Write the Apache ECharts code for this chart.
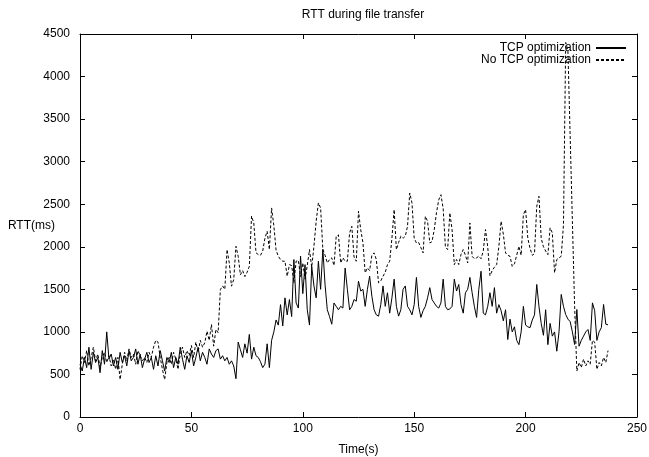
<!DOCTYPE html>
<html>
<head>
<meta charset="utf-8">
<script src="https://cdn.jsdelivr.net/npm/echarts@6/dist/echarts.min.js"></script>
<style>
html,body{margin:0;padding:0;background:#fff;}
#chart{width:649px;height:457px;}
</style>
</head>
<body>
<div id="chart"></div>
<script>
const chartTitle = "RTT during file transfer";
const seriesNames = ["TCP optimization", "No TCP optimization"];
const xAxisName = "Time(s)";
const yAxisName = "RTT(ms)";
const xTicks = [0, 50, 100, 150, 200, 250];
const yTicks = [0, 500, 1000, 1500, 2000, 2500, 3000, 3500, 4000, 4500];
const sampleStartS = 0;
const sampleStepS = 1;

// RTT (ms) with TCP optimization, one sample per second
const rttOpt = [
  620, 540, 700, 580, 820, 560, 760, 640, 700, 520,
  780, 620, 1000, 680, 740, 600, 700, 560, 760, 640,
  720, 600, 780, 660, 700, 800, 620, 740, 580, 680,
  760, 640, 700, 560, 720, 600, 780, 660, 540, 700,
  640, 760, 580, 700, 620, 820, 680, 560, 720, 640,
  780, 600, 700, 820, 660, 760, 700, 620, 800, 740,
  700, 780, 800, 680, 720, 660, 700, 620, 660, 600,
  450, 880, 790, 700, 860, 750, 970, 680, 820, 720,
  700, 650, 580, 620, 860, 580, 900, 1000, 1140, 1080,
  1320, 1070, 1400, 1200, 1380, 1180, 1850, 1340, 1280, 1890,
  1450, 1790, 1260, 1080, 1770, 1540, 1400, 1830, 1500, 1970,
  1550, 1260, 1180, 1090, 1340, 1300, 1260, 1300, 1280, 1750,
  1500, 1260, 1300, 1380, 1360, 1595, 1480, 1500, 1300, 1500,
  1654, 1420, 1260, 1200, 1185, 1320, 1540, 1300, 1460, 1220,
  1400, 1620, 1300, 1185, 1260, 1500, 1540, 1300, 1260, 1200,
  1320, 1640, 1300, 1170, 1250, 1300, 1400, 1520, 1380, 1340,
  1300, 1280, 1340, 1620, 1300, 1260, 1270, 1300, 1620, 1480,
  1557, 1320, 1220, 1460, 1500, 1640, 1460, 1300, 1170, 1500,
  1713, 1220, 1200, 1300, 1460, 1300, 1520, 1220, 1320, 1250,
  1130, 1260, 910, 1150, 1000, 1060, 900, 850, 1000, 1300,
  1080, 1060, 1050, 1140, 1200, 1557, 1300, 1100, 960, 1260,
  850, 1100, 950, 1000, 773, 1000, 1440, 1300, 1204, 1150,
  1120, 1000, 852, 1263, 832, 900, 950, 1000, 1028, 900,
  1341, 1250, 900, 1000, 1050, 1322, 1090, 1083
];

// RTT (ms) without TCP optimization, one sample per second
const rttNoOpt = [
  560, 720, 640, 780, 600, 700, 820, 660, 740, 580,
  700, 760, 640, 720, 600, 680, 560, 700, 440, 620,
  760, 660, 800, 700, 740, 620, 780, 720, 660, 700,
  640, 760, 700, 820, 900, 880, 700, 560, 440, 640,
  700, 620, 760, 680, 560, 740, 820, 700, 780, 720,
  840, 700, 880, 760, 900, 820, 872, 1008, 900, 1087,
  832, 1028, 990, 1497, 1540, 1500, 1967, 1810, 1537, 1615,
  2006, 1888, 1670, 1720, 1650, 1700, 1770, 2360, 2280, 1930,
  1908, 1900, 1950, 2100, 2182, 1967, 2456, 2250, 1960, 1889,
  1850, 1830, 1830, 1654, 1790, 1780, 1576, 1830, 1840, 1650,
  1810, 1620, 1780, 1967, 1760, 2006, 2300, 2515, 2456, 1967,
  1900, 1810, 1850, 1870, 1780, 2124, 2140, 1810, 1870, 1830,
  1830, 2163, 2240, 1880, 1830, 2417, 2200, 2045, 1694, 1752,
  1720, 1900, 1928, 1850, 1576, 1600, 1654, 1700, 1790, 1830,
  2100, 2437, 1967, 2050, 2124, 2100, 2124, 2240, 2632, 2515,
  2100, 2045, 2050, 1990, 1928, 2358, 2300, 2045, 2060, 2200,
  2400, 2550, 2612, 2450, 2000, 1967, 2398, 2200, 1790, 1850,
  1791, 1908, 1967, 1900, 1810, 2280, 1888, 1860, 1870, 1890,
  1860, 1950, 2202, 2000, 1660, 1720, 1760, 1790, 2000, 2300,
  2150, 1928, 1900, 1888, 1770, 1800, 1900, 2006, 1900, 2378,
  2437, 2100, 1980, 1900, 1920, 2475, 2593, 2100, 2000, 1950,
  1908, 2222, 2163, 1694, 1850, 1870, 1889, 2260, 4400, 4300,
  3300, 2300, 1300, 540, 640, 580, 680, 600, 660, 620,
  900, 880, 560, 640, 600, 700, 640, 780
];

function toPairs(values) {
  return values.map((v, i) => [sampleStartS + i * sampleStepS, v]);
}

const chart = echarts.init(document.getElementById('chart'), null, {renderer: 'canvas'});
const font = 'Liberation Sans, Arial, Helvetica, sans-serif';
const black = '#000';
const plainNum = v => String(v);

const baseX = {
  type: 'value', min: xTicks[0], max: xTicks[xTicks.length - 1], interval: xTicks[1] - xTicks[0],
  splitLine: {show: false},
  axisLine: {show: true, onZero: false, lineStyle: {color: black, width: 1}},
  axisTick: {show: true, inside: true, length: 5, lineStyle: {color: black}}
};
const baseY = {
  type: 'value', min: yTicks[0], max: yTicks[yTicks.length - 1], interval: yTicks[1] - yTicks[0],
  splitLine: {show: false},
  axisLine: {show: true, onZero: false, lineStyle: {color: black, width: 1}},
  axisTick: {show: true, inside: true, length: 5, lineStyle: {color: black}}
};

chart.setOption({
  animation: false,
  backgroundColor: '#fff',
  title: {
    text: chartTitle, left: 358, top: 4, textAlign: 'center',
    textStyle: {fontFamily: font, fontSize: 12, fontWeight: 'normal', color: black}
  },
  legend: {
    orient: 'vertical', right: 17, top: 37, align: 'right',
    itemWidth: 30, itemHeight: 13, itemGap: 0,
    itemStyle: {opacity: 0},
    textStyle: {fontFamily: font, fontSize: 12, color: black},
    data: seriesNames
  },
  grid: {left: 80, right: 12, top: 34, bottom: 40, containLabel: false, outerBoundsMode: 'none'},
  xAxis: [
    Object.assign({}, baseX, {
      position: 'bottom', name: xAxisName, nameLocation: 'middle', nameGap: 27, nameMoveOverlap: false,
      nameTextStyle: {fontFamily: font, fontSize: 12, color: black},
      axisLabel: {show: true, margin: 6, fontFamily: font, fontSize: 12, color: black, formatter: plainNum}
    }),
    Object.assign({}, baseX, {position: 'top', axisLabel: {show: false}})
  ],
  yAxis: [
    Object.assign({}, baseY, {
      position: 'left', name: yAxisName, nameLocation: 'middle', nameGap: 25, nameRotate: 0,
      nameMoveOverlap: false,
      nameTextStyle: {fontFamily: font, fontSize: 12, color: black, align: 'right'},
      axisLabel: {show: true, margin: 10, fontFamily: font, fontSize: 12, color: black, formatter: plainNum}
    }),
    Object.assign({}, baseY, {position: 'right', axisLabel: {show: false}})
  ],
  series: [
    {
      name: seriesNames[0], type: 'line', data: toPairs(rttOpt),
      xAxisIndex: 0, yAxisIndex: 0,
      symbol: 'none', smooth: false,
      lineStyle: {color: black, width: 1, type: 'solid'},
      itemStyle: {color: black}
    },
    {
      name: seriesNames[1], type: 'line', data: toPairs(rttNoOpt),
      xAxisIndex: 0, yAxisIndex: 0,
      symbol: 'none', smooth: false,
      lineStyle: {color: black, width: 1, type: [3, 2]},
      itemStyle: {color: black}
    }
  ]
});
</script>
</body>
</html>
